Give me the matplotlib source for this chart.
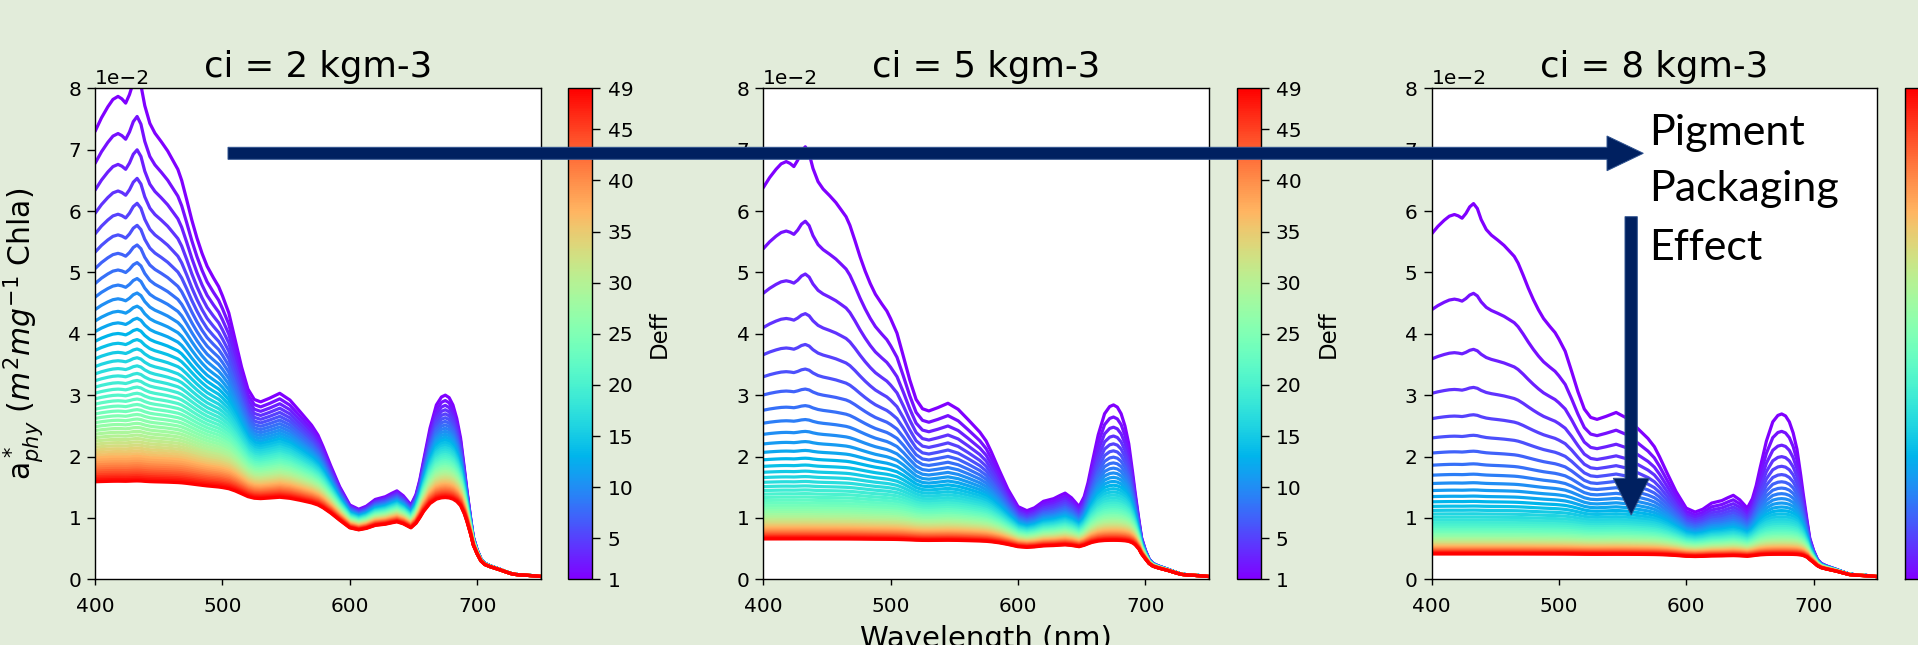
import numpy as np
import matplotlib
matplotlib.use("Agg")
import matplotlib.pyplot as plt
from matplotlib.colors import Normalize
from matplotlib.cm import ScalarMappable
from matplotlib.patches import Polygon

# ---------------- data ----------------
# wavelength (nm) and the top curve of the first panel (ci = 2, Deff = 1), units 1e-2 m2 mg-1
wavelength = np.array([400, 405, 410, 414, 418, 421, 424, 427, 430, 433, 436, 439, 443, 447,
                       452, 457, 461, 465, 468, 472, 476, 480, 484, 488, 493, 497, 500, 505,
                       510, 515, 520, 525, 530, 537, 545, 553, 561, 570, 575, 579, 585, 592,
                       600, 607, 613, 620, 628, 633, 637, 642, 648, 652, 655, 658, 663, 668,
                       672, 675, 678, 681, 684, 687, 690, 692, 695, 697, 700, 703, 706, 710,
                       718, 723, 728, 734, 739, 745, 750])
a_top_ci2 = np.array([7.30, 7.52, 7.70, 7.82, 7.87, 7.83, 7.76, 7.90, 8.10, 8.20, 8.05, 7.72,
                      7.43, 7.27, 7.13, 6.98, 6.83, 6.68, 6.50, 6.18, 5.85, 5.56, 5.31, 5.10,
                      4.91, 4.77, 4.62, 4.34, 3.90, 3.46, 3.10, 2.93, 2.89, 2.95, 3.03, 2.92,
                      2.73, 2.51, 2.35, 2.16, 1.85, 1.51, 1.21, 1.14, 1.19, 1.30, 1.345, 1.40,
                      1.44, 1.36, 1.21, 1.38, 1.62, 1.94, 2.46, 2.84, 2.97, 3.00, 2.96, 2.84,
                      2.62, 2.30, 1.80, 1.45, 0.98, 0.69, 0.48, 0.33, 0.26, 0.22, 0.16, 0.12,
                      0.085, 0.07, 0.065, 0.055, 0.045]) * 1e-2

ci_values = [2, 5, 8]                 # kg m-3
deff_values = np.arange(1, 50)        # Deff 1 ... 49
cbar_ticks = [1, 5, 10, 15, 20, 25, 30, 35, 40, 45, 49]
x_ticks = [400, 500, 600, 700]
y_ticks = [0, 0.01, 0.02, 0.03, 0.04, 0.05, 0.06, 0.07, 0.08]

# package-effect parameters fitted to the picture
K_pack = 1.6
p_pack = 0.86


def q_star(rho):
    """Duysens / Morel-Bricaud packaging efficiency factor Q*a(rho)."""
    em = np.exp(-rho)
    qa = 1 + 2 * em / rho - 2 * (-np.expm1(-rho)) / rho ** 2
    return 1.5 * qa / rho


# unpackaged spectrum recovered from the ci=2, Deff=1 curve
a_sol = a_top_ci2.copy()
for _ in range(60):
    a_sol = a_top_ci2 / q_star(K_pack * ci_values[0] * a_sol * 1.0)

# ---------------- figure ----------------
W, H = 1918, 645
fig = plt.figure(figsize=(W / 100, H / 100), dpi=100)
bg = '#e2ecda'
fig.patch.set_facecolor(bg)

cmap = plt.get_cmap('rainbow')
norm = Normalize(vmin=1, vmax=49)

ax_left_px = [95.1, 763.3, 1431.5]
ax_w_px = 445.7
ax_top_px, ax_bot_px = 88.4, 579.2
cb_off_px = 473.2
cb_w_px = 24.0

tick_fs = 14.5
for i, ci in enumerate(ci_values):
    l = ax_left_px[i] / W
    b = (H - ax_bot_px) / H
    h = (ax_bot_px - ax_top_px) / H
    ax = fig.add_axes([l, b, ax_w_px / W, h])
    ax.set_facecolor('white')
    for D in deff_values:
        curve = a_sol * q_star(K_pack * ci * a_sol * D ** p_pack)
        ax.plot(wavelength, curve, color=cmap(norm(D)), lw=2.3, solid_capstyle='round')
    ax.set_xlim(400, 750)
    ax.set_ylim(0, 0.08)
    ax.set_xticks(x_ticks)
    ax.set_yticks(y_ticks)
    ax.ticklabel_format(axis='y', style='sci', scilimits=(0, 0))
    ax.yaxis.get_offset_text().set_fontsize(tick_fs)
    ax.tick_params(axis='x', labelsize=tick_fs, length=4.5, width=1.0, pad=8.0)
    ax.tick_params(axis='y', labelsize=tick_fs, length=6.0, width=1.0, pad=4.0)
    for sp in ax.spines.values():
        sp.set_linewidth(1.0)
    ax.set_title(f'ci = {ci} kgm-3', fontsize=25.5, pad=8.5)
    if i == 0:
        ax.set_ylabel(r'a$^*_{phy}$ $(m^2mg^{-1}$ Chla)', fontsize=21.5)
        ax.yaxis.set_label_coords(-0.11, 0.5)
    if i == 1:
        ax.set_xlabel('Wavelength (nm)', fontsize=21)
        ax.xaxis.set_label_coords(0.5, -0.094)

    cax = fig.add_axes([(ax_left_px[i] + cb_off_px) / W, b, cb_w_px / W, h])
    sm = ScalarMappable(norm=norm, cmap=cmap)
    cb = fig.colorbar(sm, cax=cax, ticks=cbar_ticks)
    cb.ax.tick_params(labelsize=tick_fs, length=5.5, width=1.0, pad=5.5)
    cb.outline.set_linewidth(1.0)
    if i < 2:
        cb.set_label('Deff', fontsize=16.5)
        cb.ax.yaxis.set_label_coords(3.33, 0.5)
    else:
        # third colour bar runs off the right edge of the picture
        cb.ax.set_yticklabels([])

# ---------------- slide annotations ----------------
ov = fig.add_axes([0, 0, 1, 1], zorder=10)
ov.set_xlim(0, W)
ov.set_ylim(H, 0)
ov.axis('off')
ov.patch.set_alpha(0)

navy = '#002060'
edge = '#2f528f'
harrow = [(228, 147.3), (1607, 147.3), (1607, 136), (1643.3, 153.3), (1607, 170.7),
          (1607, 159.3), (228, 159.3)]
varrow = [(1625, 216.7), (1637.3, 216.7), (1637.3, 478.3), (1649.3, 478.3), (1631.2, 515),
          (1613.3, 478.3), (1625, 478.3)]
for pts in (harrow, varrow):
    ov.add_patch(Polygon(pts, closed=True, facecolor=navy, edgecolor=edge, lw=0.7))

txt_kw = dict(fontsize=31, family='Lato', ha='left', va='baseline', color='black')
ov.text(1649, 145, 'Pigment', **txt_kw)
ov.text(1649, 201, 'Packaging', **txt_kw)
ov.text(1649, 260, 'Effect', **txt_kw)

fig.savefig('out.png', dpi=100, facecolor=bg)
